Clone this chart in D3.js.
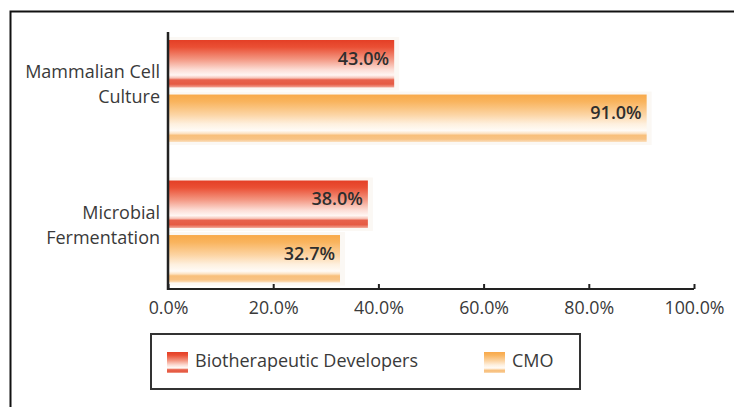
<!DOCTYPE html>
<html><head><meta charset="utf-8">
<script src="https://cdn.jsdelivr.net/npm/d3@7"></script>
<style>
html,body{margin:0;padding:0;background:#fff;}
svg{display:block;}
text{font-family:"Open Sans",sans-serif;}
</style></head>
<body><svg id="c" width="734" height="407"></svg>
<script>
const categories = ["Mammalian Cell Culture", "Microbial Fermentation"];
const categoryLines = [["Mammalian Cell", "Culture"], ["Microbial", "Fermentation"]];
const seriesNames = ["Biotherapeutic Developers", "CMO"];
const bioValues = [43.0, 38.0];
const cmoValues = [91.0, 32.7];
const tickValues = [0, 20, 40, 60, 80, 100];

const svg = d3.select("#c");
const defs = svg.append("defs");

function grad(id, stops) {
  const g = defs.append("linearGradient").attr("id", id)
    .attr("x1", 0).attr("y1", 0).attr("x2", 0).attr("y2", 1);
  stops.forEach(s => g.append("stop").attr("offset", s[0]).attr("stop-color", s[1]));
}
grad("gRed", [[0,"#e43f26"],[0.15,"#ea4f34"],[0.4,"#f39580"],[0.62,"#fcdcd4"],[0.74,"#fff6f3"],[0.8,"#f7c4b8"],[0.84,"#e8624c"],[0.93,"#e55b44"],[1,"#f2a696"]]);
grad("gOrg", [[0,"#f8a94a"],[0.15,"#f9b45e"],[0.42,"#fcd4a3"],[0.62,"#fef0df"],[0.76,"#fffbf6"],[0.82,"#fde3c3"],[0.86,"#f8c07c"],[0.94,"#f8c384"],[1,"#fbe0c0"]]);

// outer frame (top & left)
svg.append("path").attr("d", "M10.5,407 V11.5 H734").attr("fill","none").attr("stroke","#111").attr("stroke-width",2);

const x = d3.scaleLinear().domain([0, 100]).range([168, 694]);
const y = d3.scaleBand().domain(categories).range([40, 282.5]).paddingInner(0.274).paddingOuter(0);
const ySub = d3.scaleBand().domain(seriesNames).range([0, y.bandwidth()]).paddingInner(0.13);

const data = [];
categories.forEach((c, i) => {
  data.push({cat: c, s: seriesNames[0], v: bioValues[i], fill: "url(#gRed)"});
  data.push({cat: c, s: seriesNames[1], v: cmoValues[i], fill: "url(#gOrg)"});
});

// soft glow behind bars
svg.append("g").selectAll("rect").data(data).join("rect")
  .attr("x", x(0)).attr("y", d => y(d.cat) + ySub(d.s) - 3)
  .attr("width", d => x(d.v) - x(0) + 5).attr("height", ySub.bandwidth() + 6)
  .attr("fill", "#fbf8f4");

svg.append("g").selectAll("rect").data(data).join("rect")
  .attr("x", x(0)).attr("y", d => y(d.cat) + ySub(d.s))
  .attr("width", d => x(d.v) - x(0)).attr("height", ySub.bandwidth())
  .attr("fill", d => d.fill);

svg.append("g").selectAll("text").data(data).join("text")
  .attr("x", d => x(d.v) - 5).attr("y", d => y(d.cat) + ySub(d.s) + 20)
  .attr("text-anchor", "end").attr("dominant-baseline", "middle")
  .attr("font-size", 18).attr("font-weight", 600).attr("fill", "#2e2e2e")
  .text(d => d.v.toFixed(1) + "%");

// axes
const axisY = 289;
const xAxis = d3.axisBottom(x).tickValues(tickValues).tickSize(0).tickPadding(0)
  .tickFormat(d => d.toFixed(1) + "%");
const gx = svg.append("g").attr("transform", `translate(0,${axisY})`).call(xAxis);
gx.select(".domain").remove();
gx.selectAll(".tick line").remove();
gx.selectAll(".tick").append("line").attr("y1", 0).attr("y2", -5).attr("stroke", "#222").attr("stroke-width", 2);
gx.selectAll(".tick text").attr("y", 19).attr("dy", "0.35em").attr("font-size", 17.8)
  .attr("fill", "#3a3a3a").attr("font-family", "'Open Sans',sans-serif");
svg.append("line").attr("x1", x(0)).attr("x2", x(100)).attr("y1", axisY).attr("y2", axisY)
  .attr("stroke", "#222").attr("stroke-width", 2);
svg.append("line").attr("x1", x(0)).attr("x2", x(0)).attr("y1", 32).attr("y2", axisY + 1)
  .attr("stroke", "#222").attr("stroke-width", 2.5);

// category labels
const gc = svg.append("g");
categories.forEach((c, i) => {
  const cy = y(c) + y.bandwidth() / 2;
  const lines = categoryLines[i];
  lines.forEach((t, j) => {
    gc.append("text").attr("x", 160).attr("y", cy + (j - (lines.length - 1) / 2) * 25 - 5)
      .attr("text-anchor", "end").attr("dominant-baseline", "middle")
      .attr("font-size", 18).attr("fill", "#3a3a3a").text(t);
  });
});

// legend
const lg = svg.append("g");
lg.append("rect").attr("x", 151).attr("y", 334).attr("width", 429).attr("height", 55)
  .attr("fill", "#fff").attr("stroke", "#333").attr("stroke-width", 2);
const legX = [167, 484];
seriesNames.forEach((s, i) => {
  lg.append("rect").attr("x", legX[i]).attr("y", 352).attr("width", 21).attr("height", 21)
    .attr("fill", i === 0 ? "url(#gRed)" : "url(#gOrg)");
  lg.append("text").attr("x", legX[i] + 28).attr("y", 362).attr("dominant-baseline", "middle")
    .attr("font-size", 18).attr("fill", "#3a3a3a").text(s);
});
</script></body></html>
